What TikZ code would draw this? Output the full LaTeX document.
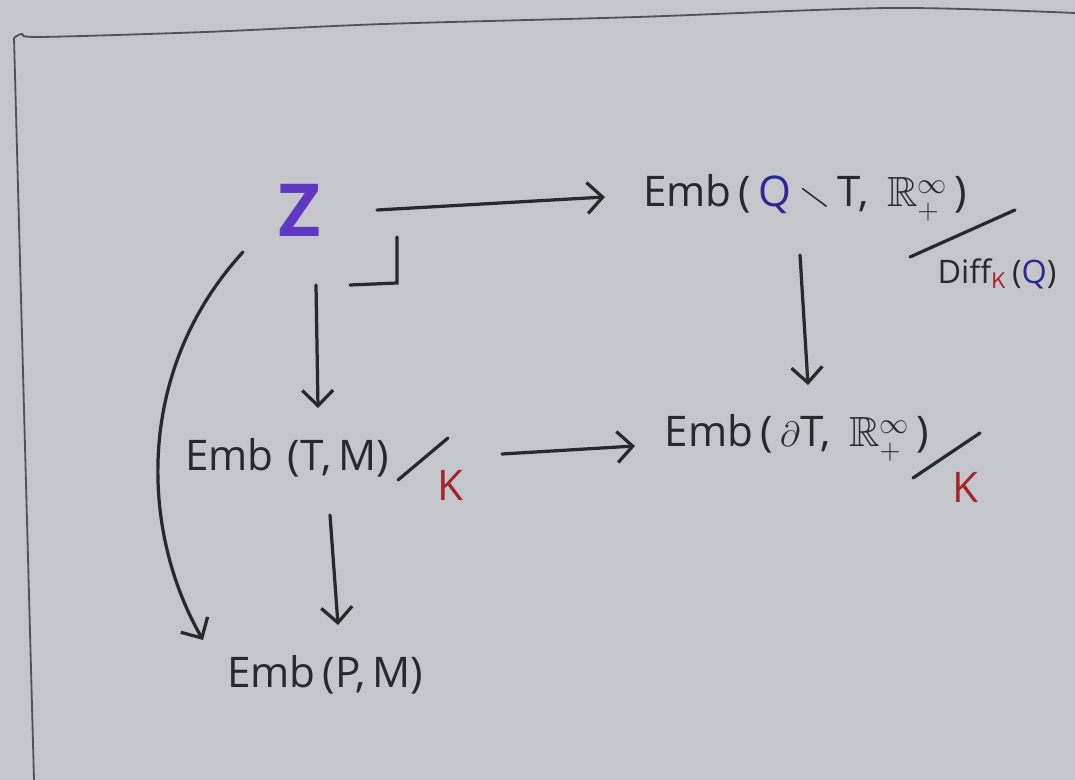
\documentclass[tikz,border=0pt]{standalone}
\usepackage{amssymb}
\usepackage{fontspec}
\setmainfont{Open Sans}
\usetikzlibrary{arrows.meta,calc}

\definecolor{paper}{RGB}{197,198,203}
\definecolor{ink}{RGB}{40,40,45}
\definecolor{zpurple}{RGB}{95,55,195}
\definecolor{qblue}{RGB}{45,40,145}
\definecolor{kred}{RGB}{165,35,45}

\newcommand{\Rplus}{$\mathbb{R}^{\infty}_{\raisebox{-3pt}{$\scriptstyle+$}}$}

\begin{document}
\begin{tikzpicture}[
x=0.025cm, y=-0.025cm,
every node/.style={
inner sep=0pt,
text=ink,
font=\fontsize{30}{36}\selectfont
},
arrow/.style={-{Straight Barb[length=11pt,width=22pt]}, line width=2.3pt, draw=ink, line cap=round}
]

% =====================================================
% Styles
% =====================================================

\tikzstyle{apex} =
[text=zpurple,
font=\fontsize{52}{60}\selectfont\bfseries]

\tikzstyle{space} =
[text=ink]

\tikzstyle{divisor} =
[text=kred,
font=\fontsize{30}{36}\selectfont]

\tikzstyle{group} =
[text=ink,
font=\fontsize{23}{26}\selectfont]

\tikzstyle{slash} =
[line width=2.3pt, draw=ink, line cap=round]

\tikzstyle{frame} =
[line width=1.3pt, draw=ink!80]

% =====================================================
% Paper and frame
% =====================================================

\fill[paper] (0,0) rectangle (1075,780);
\useasboundingbox (0,0) rectangle (1075,780);

\draw [frame] (34,780) -- (14,38);
\draw [frame] plot[smooth] coordinates
{(14,38) (22,34) (40,37) (205,32) (384,24) (637,17) (890,8) (1075,13)};

% =====================================================
% Nodes
% =====================================================

\node (zz) [apex] at (300,210)
{Z};

\node (qt) [space] at (805,198)
{Emb\,(\,{\color{qblue}Q}\,$\smallsetminus$\,T,\, \Rplus\,)};

\node (diffq) [group] at ($(qt)+(192,76)$)
{Diff$_{\color{kred}\mathsf{K}}$\,({\color{qblue}Q})};

\node (tm) [space] at (287,458)
{Emb\,\,(T,\,M)};

\node (tmk) [divisor] at ($(tm)+(163,27)$)
{K};

\node (dt) [space] at (797,438)
{Emb\,(\,$\partial$T,\, \Rplus\,)};

\node (dtk) [divisor] at ($(dt)+(168,49)$)
{K};

\node (pm) [space] at (325,675)
{Emb\,(P,\,M)};

% =====================================================
% Quotient slashes
% =====================================================

\draw [slash] ($(qt)+(105,59)$) -- ($(qt)+(210,12)$);

\draw [slash] ($(tm)+(111,22)$) -- ($(tm)+(161,-20)$);

\draw [slash] ($(dt)+(116,40)$) -- ($(dt)+(183,-5)$);

% pullback corner
\draw [slash] ($(zz)+(97,27)$) -- ($(zz)+(97,73)$) -- ($(zz)+(50,75)$);

% =====================================================
% Arrows
% =====================================================

\draw [arrow] ($(zz)+(77,0)$) -- ($(qt)+(-200,-1)$);

\draw [arrow] ($(zz)+(16,75)$) -- ($(tm)+(31,-50)$);

\draw [arrow] ($(qt)+(-5,57)$) -- ($(dt)+(11,-53)$);

\draw [arrow] ($(tm)+(215,-4)$) -- ($(dt)+(-162,8)$);

\draw [arrow] ($(tm)+(43,57)$) -- ($(pm)+(13,-50)$);

\draw [arrow] ($(zz)+(-57,42)$) .. controls (135,370) and (140,530) .. ($(pm)+(-122,-35)$);

\end{tikzpicture}
\end{document}
